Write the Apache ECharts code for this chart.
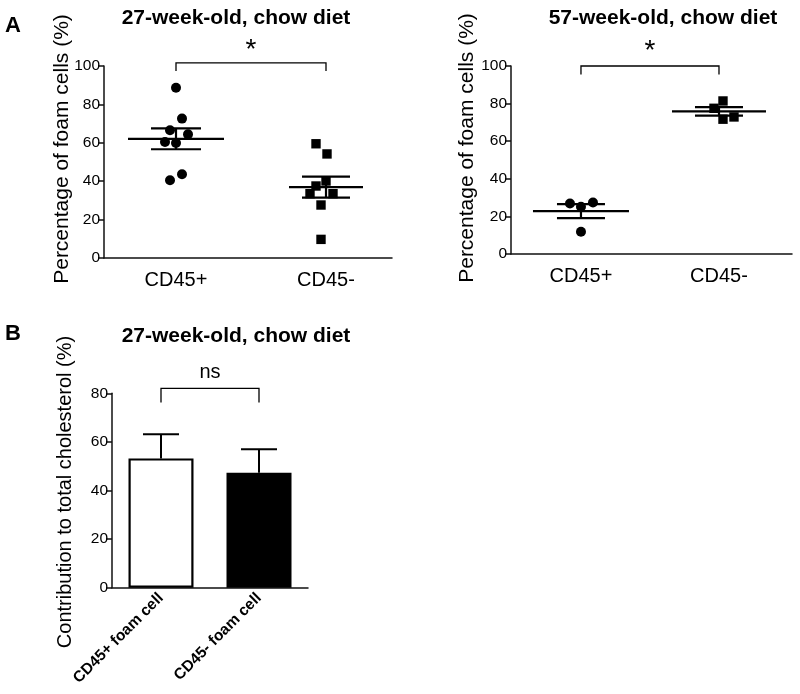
<!DOCTYPE html>
<html><head><meta charset="utf-8">
<script src="https://cdn.jsdelivr.net/npm/echarts@6/dist/echarts.min.js"></script>
<style>html,body{margin:0;padding:0;background:#fff}#c{width:800px;height:694px}</style>
</head><body><div id="c"></div>
<script>
// ---------- data ----------
const groupLabels = ['CD45+', 'CD45-'];
const pctTicks = [0, 20, 40, 60, 80, 100];
const week27Plus  = [88.7, 72.6, 66.5, 64.4, 60.4, 59.9, 43.6, 40.5];
const week27Minus = [59.5, 54.2, 40.1, 37.5, 33.5, 33.5, 27.6, 9.7];
const week57Plus  = [26.9, 27.4, 25.1, 11.8];
const week57Minus = [81.4, 77.5, 71.7, 72.9];
const barLabels = ['CD45+ foam cell', 'CD45- foam cell'];
const barMeans  = [53.2, 47.3];
const barErrors = [9.9, 9.7];
const contribTicks = [0, 20, 40, 60, 80];
const sigA27 = '*', sigA57 = '*', sigB = 'ns';

// ---------- layout / style ----------
const FONT = '"Liberation Sans", Arial, Helvetica, sans-serif';
const jit27P = [0, 6, -6, 12, -11, 0, 6, -6];
const jit27M = [-10, 1, 0, -10, -16, 7, -5, -5];
const jit57P = [-11, 12, 0, 0];
const jit57M = [4, -5, 4, 15];

function meanSem(arr) {
  const n = arr.length;
  const m = arr.reduce((a, b) => a + b, 0) / n;
  const sd = Math.sqrt(arr.reduce((a, b) => a + (b - m) * (b - m), 0) / (n - 1));
  return [m, sd / Math.sqrt(n)];
}

function pointSeries(idx, group, vals, jit, shape) {
  return {
    type: 'custom', xAxisIndex: idx, yAxisIndex: idx, clip: false, z: 5,
    data: vals.map((v, i) => [group, v, jit[i]]),
    renderItem: function (params, api) {
      const p = api.coord([api.value(0), api.value(1)]);
      const x = p[0] + api.value(2), y = p[1];
      if (shape === 'circle') {
        return { type: 'circle', shape: { cx: x, cy: y, r: 5 }, style: { fill: '#000' } };
      }
      return { type: 'rect', shape: { x: x - 4.7, y: y - 4.7, width: 9.4, height: 9.4 }, style: { fill: '#000' } };
    }
  };
}

function meanSeries(idx, items) {
  return {
    type: 'custom', xAxisIndex: idx, yAxisIndex: idx, clip: false, z: 6,
    data: items,
    renderItem: function (params, api) {
      const g = api.value(0), m = api.value(1), s = api.value(2);
      const hm = api.value(3), hs = api.value(4);
      const pm = api.coord([g, m]), pu = api.coord([g, m + s]), pl = api.coord([g, m - s]);
      const st = { stroke: '#000', lineWidth: 2.2 };
      return { type: 'group', children: [
        { type: 'line', shape: { x1: pm[0] - hm, y1: pm[1], x2: pm[0] + hm, y2: pm[1] }, style: st },
        { type: 'line', shape: { x1: pu[0] - hs, y1: pu[1], x2: pu[0] + hs, y2: pu[1] }, style: st },
        { type: 'line', shape: { x1: pl[0] - hs, y1: pl[1], x2: pl[0] + hs, y2: pl[1] }, style: st },
        { type: 'line', shape: { x1: pu[0], y1: pu[1], x2: pl[0], y2: pl[1] }, style: st }
      ]};
    }
  };
}

function bracketSeries(idx, g1, g2, yVal, drop, label, textGap, fontSize) {
  return {
    type: 'custom', xAxisIndex: idx, yAxisIndex: idx, clip: false, z: 6,
    data: [[g1, g2, yVal]],
    renderItem: function (params, api) {
      const a = api.coord([api.value(0), api.value(2)]);
      const b = api.coord([api.value(1), api.value(2)]);
      return { type: 'group', children: [
        { type: 'polyline', shape: { points: [[a[0], a[1] + drop], [a[0], a[1]], [b[0], b[1]], [b[0], b[1] + drop]] },
          style: { stroke: '#000', lineWidth: 1.3, fill: null } },
        { type: 'text', x: (a[0] + b[0]) / 2, y: a[1] - textGap,
          style: { text: label, fontSize: fontSize, fontFamily: FONT, fill: '#000', align: 'center', verticalAlign: 'middle' } }
      ]};
    }
  };
}

function errSeries(idx) {
  return {
    type: 'custom', xAxisIndex: idx, yAxisIndex: idx, clip: false, z: 4,
    data: barMeans.map((m, i) => [i, m, barErrors[i]]),
    renderItem: function (params, api) {
      const p0 = api.coord([api.value(0), api.value(1)]);
      const p1 = api.coord([api.value(0), api.value(1) + api.value(2)]);
      const st = { stroke: '#000', lineWidth: 2 };
      return { type: 'group', children: [
        { type: 'line', shape: { x1: p0[0], y1: p0[1], x2: p1[0], y2: p1[1] }, style: st },
        { type: 'line', shape: { x1: p1[0] - 18, y1: p1[1], x2: p1[0] + 18, y2: p1[1] }, style: st }
      ]};
    }
  };
}

const axisLine = { show: true, lineStyle: { color: '#111', width: 1.5 } };
function yAx(idx, max, ticks) {
  return {
    gridIndex: idx, type: 'value', min: 0, max: max, interval: 20,
    axisLine: axisLine, splitLine: { show: false },
    axisTick: { show: true, length: 6, lineStyle: { color: '#111', width: 1.5 } },
    axisLabel: { color: '#000', fontSize: 15.5, fontFamily: FONT, margin: 4, formatter: v => ticks.indexOf(v) >= 0 ? String(v) : '' }
  };
}
function xAxVal(idx, min, max) {
  return {
    gridIndex: idx, type: 'value', min: min, max: max,
    axisLine: axisLine, splitLine: { show: false }, axisTick: { show: false },
    axisLabel: { customValues: [1, 2], color: '#000', fontSize: 20, fontFamily: FONT, margin: 12,
      formatter: v => groupLabels[Math.round(v) - 1] || '' }
  };
}

const ms27P = meanSem(week27Plus), ms27M = meanSem(week27Minus);
const ms57P = meanSem(week57Plus), ms57M = meanSem(week57Minus);

const chart = echarts.init(document.getElementById('c'), null, { renderer: 'canvas' });
chart.setOption({
  backgroundColor: '#fff',
  animation: false,
  grid: [
    { left: 104, top: 66, width: 288, height: 192 },
    { left: 511, top: 66, width: 281, height: 188 },
    { left: 112, top: 393.3, width: 196, height: 194.4 }
  ],
  xAxis: [
    xAxVal(0, 0.52, 2.44),
    xAxVal(1, 0.493, 2.529),
    { gridIndex: 2, type: 'category', data: barLabels,
      axisLine: axisLine, axisTick: { show: false },
      axisLabel: { interval: 0, rotate: 45, color: '#000', fontSize: 15.5, fontWeight: 'bold', fontFamily: FONT, margin: 8 } }
  ],
  yAxis: [ yAx(0, 100, pctTicks), yAx(1, 100, pctTicks), yAx(2, 80, contribTicks) ],
  series: [
    pointSeries(0, 1, week27Plus, jit27P, 'circle'),
    pointSeries(0, 2, week27Minus, jit27M, 'square'),
    meanSeries(0, [[1, ms27P[0], ms27P[1], 48, 25], [2, ms27M[0], ms27M[1], 37, 24]]),
    bracketSeries(0, 1, 2, 101.6, 8, sigA27, 13, 28),
    pointSeries(1, 1, week57Plus, jit57P, 'circle'),
    pointSeries(1, 2, week57Minus, jit57M, 'square'),
    meanSeries(1, [[1, ms57P[0], ms57P[1], 48, 24], [2, ms57M[0], ms57M[1], 47, 24]]),
    bracketSeries(1, 1, 2, 100, 8.5, sigA57, 15, 28),
    { type: 'bar', xAxisIndex: 2, yAxisIndex: 2, barWidth: 65, z: 3,
      data: barMeans.map((v, i) => ({ value: v, itemStyle: i === 0
        ? { color: '#fff', borderColor: '#000', borderWidth: 2.2 }
        : { color: '#000', borderColor: '#000', borderWidth: 2.2 } })) },
    errSeries(2),
    bracketSeries(2, 0, 1, 82, 14, sigB, 16, 20)
  ],
  graphic: [
    { type: 'text', left: 5, top: 15, style: { text: 'A', fontSize: 22, fontWeight: 'bold', fontFamily: FONT, fill: '#000' } },
    { type: 'text', left: 5, top: 323, style: { text: 'B', fontSize: 22, fontWeight: 'bold', fontFamily: FONT, fill: '#000' } },
    { type: 'text', x: 236, y: 18, style: { text: '27-week-old, chow diet', fontSize: 21, fontWeight: 'bold', fontFamily: FONT, fill: '#000', align: 'center', verticalAlign: 'middle' } },
    { type: 'text', x: 663, y: 18, style: { text: '57-week-old, chow diet', fontSize: 21, fontWeight: 'bold', fontFamily: FONT, fill: '#000', align: 'center', verticalAlign: 'middle' } },
    { type: 'text', x: 236, y: 336, style: { text: '27-week-old, chow diet', fontSize: 21, fontWeight: 'bold', fontFamily: FONT, fill: '#000', align: 'center', verticalAlign: 'middle' } },
    { type: 'text', x: 62, y: 149, rotation: Math.PI / 2, style: { text: 'Percentage of foam cells (%)', fontSize: 21, fontFamily: FONT, fill: '#000', align: 'center', verticalAlign: 'middle' } },
    { type: 'text', x: 467, y: 148, rotation: Math.PI / 2, style: { text: 'Percentage of foam cells (%)', fontSize: 21, fontFamily: FONT, fill: '#000', align: 'center', verticalAlign: 'middle' } },
    { type: 'text', x: 65, y: 492, rotation: Math.PI / 2, style: { text: 'Contribution to total cholesterol (%)', fontSize: 20, fontFamily: FONT, fill: '#000', align: 'center', verticalAlign: 'middle' } }
  ]
});
</script>
</body></html>
